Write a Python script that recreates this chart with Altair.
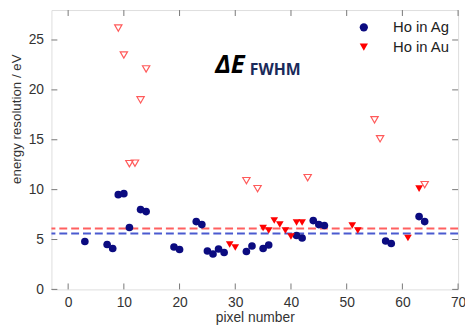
import altair as alt
import pandas as pd

# Ho in Ag (filled navy circles)
ag_pixel = [3, 7, 8, 9, 10, 11, 13, 14, 19, 20, 23, 24, 25, 26, 27, 28, 32, 33, 35, 36, 41, 42, 44, 45, 46, 57, 58, 63, 64]
ag_value = [4.8, 4.5, 4.1, 9.5, 9.6, 6.2, 8.0, 7.8, 4.25, 4.0, 6.8, 6.5, 3.85, 3.55, 4.05, 3.7, 3.8, 4.35, 4.1, 4.45, 5.4, 5.15, 6.9, 6.5, 6.4, 4.85, 4.6, 7.3, 6.8]

# Ho in Au (filled red triangles)
au_pixel = [29, 30, 35, 36, 37, 38, 39, 40, 41, 42, 51, 52, 61, 63]
au_value = [4.5, 4.2, 6.15, 5.9, 6.9, 6.5, 5.9, 5.3, 6.7, 6.7, 6.4, 5.9, 5.15, 10.1]

# Ho in Au, excluded (open triangles)
au_open_pixel = [9, 10, 11, 12, 13, 14, 32, 34, 43, 55, 56, 64]
au_open_value = [26.2, 23.5, 12.6, 12.65, 19.0, 22.1, 10.9, 10.1, 11.2, 17.0, 15.1, 10.5]

# mean resolution lines
mean_names = ["Ho in Au", "Ho in Ag"]
mean_values = [6.1, 5.6]

x_ticks = [0, 10, 20, 30, 40, 50, 60, 70]
y_ticks = [0, 5, 10, 15, 20, 25]

W, H = 412, 283
NAVY = "#0b0b80"
RED = "#ff0000"

df_main = pd.DataFrame({
    "pixel": ag_pixel + au_pixel,
    "value": ag_value + au_value,
    "series": ["Ho in Ag"] * len(ag_pixel) + ["Ho in Au"] * len(au_pixel),
})
df_open = pd.DataFrame({"pixel": au_open_pixel, "value": au_open_value})
df_mean = pd.DataFrame({"series": mean_names, "value": mean_values})
df_xt = pd.DataFrame({"t": x_ticks})
df_yt = pd.DataFrame({"t": y_ticks})

xscale = alt.Scale(domain=[-3, 70], nice=False, zero=False)
yscale = alt.Scale(domain=[0, 28], nice=False)

xaxis = alt.Axis(values=x_ticks, grid=False, ticks=False, domain=False, labelFlush=False,
                 labelFontSize=14, labelColor="#333333", labelPadding=6, labelFont="Liberation Sans",
                 title="pixel number", titleFontSize=14, titleFontWeight="normal", titleColor="#333333",
                 titleFont="Liberation Sans", titlePadding=2)
yaxis = alt.Axis(values=y_ticks, grid=False, ticks=False, domain=False,
                 labelFontSize=14, labelColor="#333333", labelPadding=8, labelFont="Liberation Sans",
                 title="energy resolution / eV", titleFontSize=13.5, titleFontWeight="normal",
                 titleColor="#333333", titleFont="Liberation Sans",
                 titleX=-35, titleY=110, titleAngle=-90, titleAlign="center", titleBaseline="middle")

base_x = alt.X("pixel:Q", scale=xscale, axis=xaxis)
base_y = alt.Y("value:Q", scale=yscale, axis=yaxis)

mean_au = alt.Chart(df_mean).transform_filter(alt.datum.series == "Ho in Au").mark_rule(
    strokeDash=[8, 4], strokeWidth=2, color="#ff6060").encode(y=alt.Y("value:Q", scale=yscale))
mean_ag = alt.Chart(df_mean).transform_filter(alt.datum.series == "Ho in Ag").mark_rule(
    strokeDash=[8, 4], strokeWidth=2, color="#4a5ad0").encode(y=alt.Y("value:Q", scale=yscale))

open_tri = alt.Chart(df_open).mark_point(shape="triangle-down", filled=False, size=55,
                                         stroke="#ff5a5a", strokeWidth=1.2, opacity=1).encode(
    x=base_x, y=base_y)

leg = alt.Legend(title=None, orient="none", legendX=309, legendY=10,
                 labelFontSize=15, labelFont="Liberation Sans", labelColor="#222222",
                 labelOffset=22, rowPadding=4, symbolSize=70, padding=0, symbolStrokeWidth=0)
points = alt.Chart(df_main).mark_point(filled=True, size=60, opacity=1).encode(
    x=base_x, y=base_y,
    color=alt.Color("series:N", scale=alt.Scale(domain=["Ho in Ag", "Ho in Au"], range=[NAVY, RED]), legend=leg),
    shape=alt.Shape("series:N", scale=alt.Scale(domain=["Ho in Ag", "Ho in Au"], range=["circle", "triangle-down"]), legend=leg),
)

tick_color = "#777777"
tick_b = alt.Chart(df_xt).mark_rule(color=tick_color).encode(
    x=alt.X("t:Q", scale=xscale), y=alt.value(H), y2=alt.value(H - 6))
tick_t = alt.Chart(df_xt).mark_rule(color=tick_color).encode(
    x=alt.X("t:Q", scale=xscale), y=alt.value(0), y2=alt.value(6))
tick_l = alt.Chart(df_yt).mark_rule(color=tick_color).encode(
    y=alt.Y("t:Q", scale=yscale), x=alt.value(0), x2=alt.value(6))
tick_r = alt.Chart(df_yt).mark_rule(color=tick_color).encode(
    y=alt.Y("t:Q", scale=yscale), x=alt.value(W - 6), x2=alt.value(W))

ann_de = alt.Chart(pd.DataFrame({"t": ["ΔE"]})).mark_text(
    font="Open Sans", fontSize=26, fontWeight="bold", fontStyle="italic", color="#000000",
    align="left", baseline="alphabetic").encode(text="t:N", x=alt.value(166), y=alt.value(64))
ann_sub = alt.Chart(pd.DataFrame({"t": ["FWHM"]})).mark_text(
    font="Open Sans", fontSize=16, fontWeight="bold", color="#1a2a5a",
    align="left", baseline="alphabetic").encode(text="t:N", x=alt.value(201), y=alt.value(65.5))

chart = alt.layer(
    tick_b, tick_t, tick_l, tick_r, mean_au, mean_ag, open_tri, points, ann_de, ann_sub
).properties(
    width=W, height=H,
    autosize=alt.AutoSizeParams(type="none"),
    padding={"left": 44, "top": 0, "right": 7, "bottom": 36},
).configure_view(stroke="#333333", strokeWidth=1.5).configure(background="white")

chart.save("out.html", embed_options={"renderer": "svg", "actions": False})
